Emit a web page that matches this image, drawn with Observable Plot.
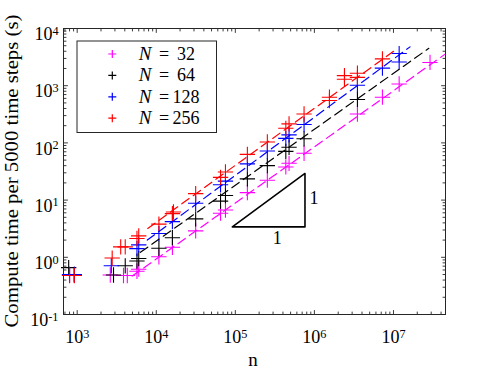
<!DOCTYPE html>
<html><head><meta charset="utf-8">
<script src="https://cdn.jsdelivr.net/npm/d3@7"></script>
<script src="https://cdn.jsdelivr.net/npm/@observablehq/plot@0.6"></script>
<style>
body{margin:0;background:#fff;}
#chart svg{display:block;}
</style></head><body><div id="chart"></div>
<script>
// ---- data ----
const seriesNames = ["N = 32", "N = 64", "N = 128", "N = 256"];
const seriesColors = ["#ff00ff", "#000000", "#0000ff", "#ff0000"];
const seriesLabelN = ["32", "64", "128", "256"];

const n32 = [800, 920, 2620, 3850, 4300, 5700, 6000, 10800, 16000, 31500, 65000, 75000, 142000, 254000, 435000, 478000, 740000, 3.5e6, 7.25e6, 1.18e7, 2.9e7];
const t32 = [0.49, 0.49, 0.49, 0.48, 0.48, 0.57, 0.62, 1.02, 1.5, 2.9, 5.9, 6.7, 13.5, 22.3, 38, 44, 66, 320, 630, 1070, 2550];

const n64 = [780, 920, 2880, 4050, 5700, 6000, 10800, 16000, 31500, 65000, 75000, 142000, 254000, 435000, 478000, 740000, 3.5e6];
const t64 = [0.66, 0.5, 0.49, 0.71, 0.86, 0.95, 1.44, 2.2, 4.7, 9.6, 12, 23.5, 40, 71, 84, 118, 575];

const n128 = [800, 920, 2700, 5700, 6000, 10800, 16000, 31500, 65000, 75000, 142000, 254000, 435000, 478000, 740000, 3.5e6, 7.25e6, 1.18e7, 1.18e7];
const t128 = [0.5, 0.5, 0.71, 1.42, 1.65, 2.6, 4.2, 8.8, 18.5, 21.5, 43, 72, 120, 138, 210, 1020, 2030, 2600, 3650];

const n256 = [800, 920, 2770, 3550, 4050, 5700, 6000, 10800, 16000, 16500, 31500, 65000, 75000, 142000, 254000, 435000, 478000, 740000, 1.55e6, 1.55e6, 2.4e6, 2.4e6, 3.5e6, 3.5e6, 7.25e6];
const t256 = [0.48, 0.48, 0.97, 1.52, 1.52, 2.13, 2.37, 3.8, 5.8, 6.2, 13, 25, 31, 63, 104, 180, 215, 320, 630, 550, 1500, 1300, 1650, 1400, 2950];

// dashed fit lines (start and end points)
const fitN32 = [4970, 4.55e7],  fitT32 = [0.47, 3600];
const fitN64 = [6300, 2.8e7],   fitT64 = [1.22, 4500];
const fitN128 = [7700, 1.62e7], fitT128 = [2.0, 4770];
const fitN256 = [7800, 1.02e7], fitT256 = [3.2, 4060];

// slope triangle
const triN = [91600, 760000, 760000, 91600];
const triT = [3.4, 3.4, 29.2, 3.4];
const slopeLabelN = [990000, 340000];
const slopeLabelT = [10.7, 2.13];
const slopeLabelText = ["1", "1"];

const xDomain = [671, 4.55e7];
const yDomain = [0.1, 1e4];
const xTickValues = [1e3, 1e4, 1e5, 1e6, 1e7];
const yTickValues = [1e-1, 1e0, 1e1, 1e2, 1e3, 1e4];
const xLabel = "n";
const yLabel = "Compute time per 5000 time steps (s)";

// ---- tables ----
const allN = [n32, n64, n128, n256], allT = [t32, t64, t128, t256];
const points = allN.flatMap((ns, i) => ns.map((n, j) => ({n, t: allT[i][j], series: seriesNames[i]})));
const fitsN = [fitN32, fitN64, fitN128, fitN256], fitsT = [fitT32, fitT64, fitT128, fitT256];
const fits = fitsN.flatMap((ns, i) => ns.map((n, j) => ({n, t: fitsT[i][j], series: seriesNames[i]})));
const tri = triN.map((n, i) => ({n, t: triT[i]}));
const slopeLabels = slopeLabelN.map((n, i) => ({n, t: slopeLabelT[i], text: slopeLabelText[i]}));

const isDecade = v => Math.abs(Math.log10(v) - Math.round(Math.log10(v))) < 1e-9;
const xMinor = d3.scaleLog().domain(xDomain).ticks().filter(v => !isDecade(v));
const yMinor = d3.scaleLog().domain(yDomain).ticks().filter(v => !isDecade(v));

const font = "'Liberation Serif', 'Times New Roman', serif";
const axisColor = "#262626";
const tickShape = {draw(ctx, l) { ctx.moveTo(0, 0); ctx.lineTo(0, -l); }};
const expFmt = d => `10^${Math.round(Math.log10(d))}`;

function ticks(values, axis, len) {
  const o = {length: len, anchor: "start", shape: tickShape, stroke: axisColor, strokeWidth: 0.9};
  if (axis === "x") return [
    Plot.vector(values, {x: d => d, frameAnchor: "bottom", rotate: 0, ...o}),
    Plot.vector(values, {x: d => d, frameAnchor: "top", rotate: 180, ...o})
  ];
  return [
    Plot.vector(values, {y: d => d, frameAnchor: "left", rotate: 90, ...o}),
    Plot.vector(values, {y: d => d, frameAnchor: "right", rotate: -90, ...o})
  ];
}

const chart = Plot.plot({
  width: 491,
  height: 369,
  marginLeft: 63,
  marginRight: 46,
  marginTop: 28,
  marginBottom: 55,
  style: {fontFamily: font, fontSize: "18px", background: "white", color: "black"},
  x: {type: "log", domain: xDomain},
  y: {type: "log", domain: yDomain},
  color: {domain: seriesNames, range: seriesColors},
  marks: [
    ...ticks(xMinor, "x", 2.5),
    ...ticks(xTickValues, "x", 4),
    ...ticks(yMinor, "y", 2.5),
    ...ticks(yTickValues, "y", 4),
    Plot.axisX(xTickValues, {tickSize: 0, tickPadding: 16, tickFormat: expFmt, fontSize: 18, label: null}),
    Plot.axisY(yTickValues, {tickSize: 0, tickPadding: 5, dy: 6, tickFormat: expFmt, fontSize: 18, label: null}),
    Plot.dot(points, {x: "n", y: "t", stroke: "series", symbol: "plus", r: 5, strokeWidth: 1.1}),
    Plot.line(fits, {x: "n", y: "t", z: "series", stroke: "series", strokeDasharray: "9,5", strokeWidth: 1.2}),
    Plot.line(tri, {x: "n", y: "t", stroke: "black", strokeWidth: 1.6}),
    Plot.text(slopeLabels, {x: "n", y: "t", text: "text", fontSize: 18}),
    Plot.frame({stroke: axisColor, strokeWidth: 1})
  ]
});
document.getElementById("chart").appendChild(chart);

const svg = d3.select(chart);
// superscript exponents
svg.selectAll("text").each(function() {
  const m = /^10\^(-?\d+)$/.exec(this.textContent);
  if (m) {
    const t = d3.select(this);
    t.text("");
    t.append("tspan").text("10");
    t.append("tspan").attr("dy", "-0.45em").attr("font-size", "0.68em").text(m[1]);
  }
});

// axis titles
svg.append("text").attr("x", 253).attr("y", 366).attr("text-anchor", "middle")
  .attr("font-family", font).attr("font-size", 19).attr("fill", "black").text(xLabel);
svg.append("text").attr("transform", "translate(18,171) rotate(-90)").attr("text-anchor", "middle")
  .attr("font-family", font).attr("font-size", 18.5).attr("fill", "black")
  .attr("textLength", 313).attr("lengthAdjust", "spacingAndGlyphs").text(yLabel);

// legend
const lg = svg.append("g").attr("font-family", font).attr("fill", "black");
lg.append("rect").attr("x", 77).attr("y", 41).attr("width", 139.5).attr("height", 91.5)
  .attr("fill", "white").attr("stroke", axisColor).attr("stroke-width", 1);
seriesNames.forEach((s, i) => {
  const y = 54 + i * 21.4;
  lg.append("path").attr("d", `M${112.3 - 4},${y}H${112.3 + 4}M${112.3},${y - 4}V${y + 4}`)
    .attr("stroke", seriesColors[i]).attr("stroke-width", 1.2).attr("fill", "none");
  lg.append("text").attr("x", 145).attr("y", y + 6).attr("font-size", 19).attr("font-style", "italic").text("N");
  lg.append("text").attr("x", 164).attr("y", y + 6).attr("font-size", 18).text("=");
  lg.append("text").attr("x", 186).attr("y", y + 6).attr("font-size", 18).text(seriesLabelN[i]);
});
</script>
</body></html>
